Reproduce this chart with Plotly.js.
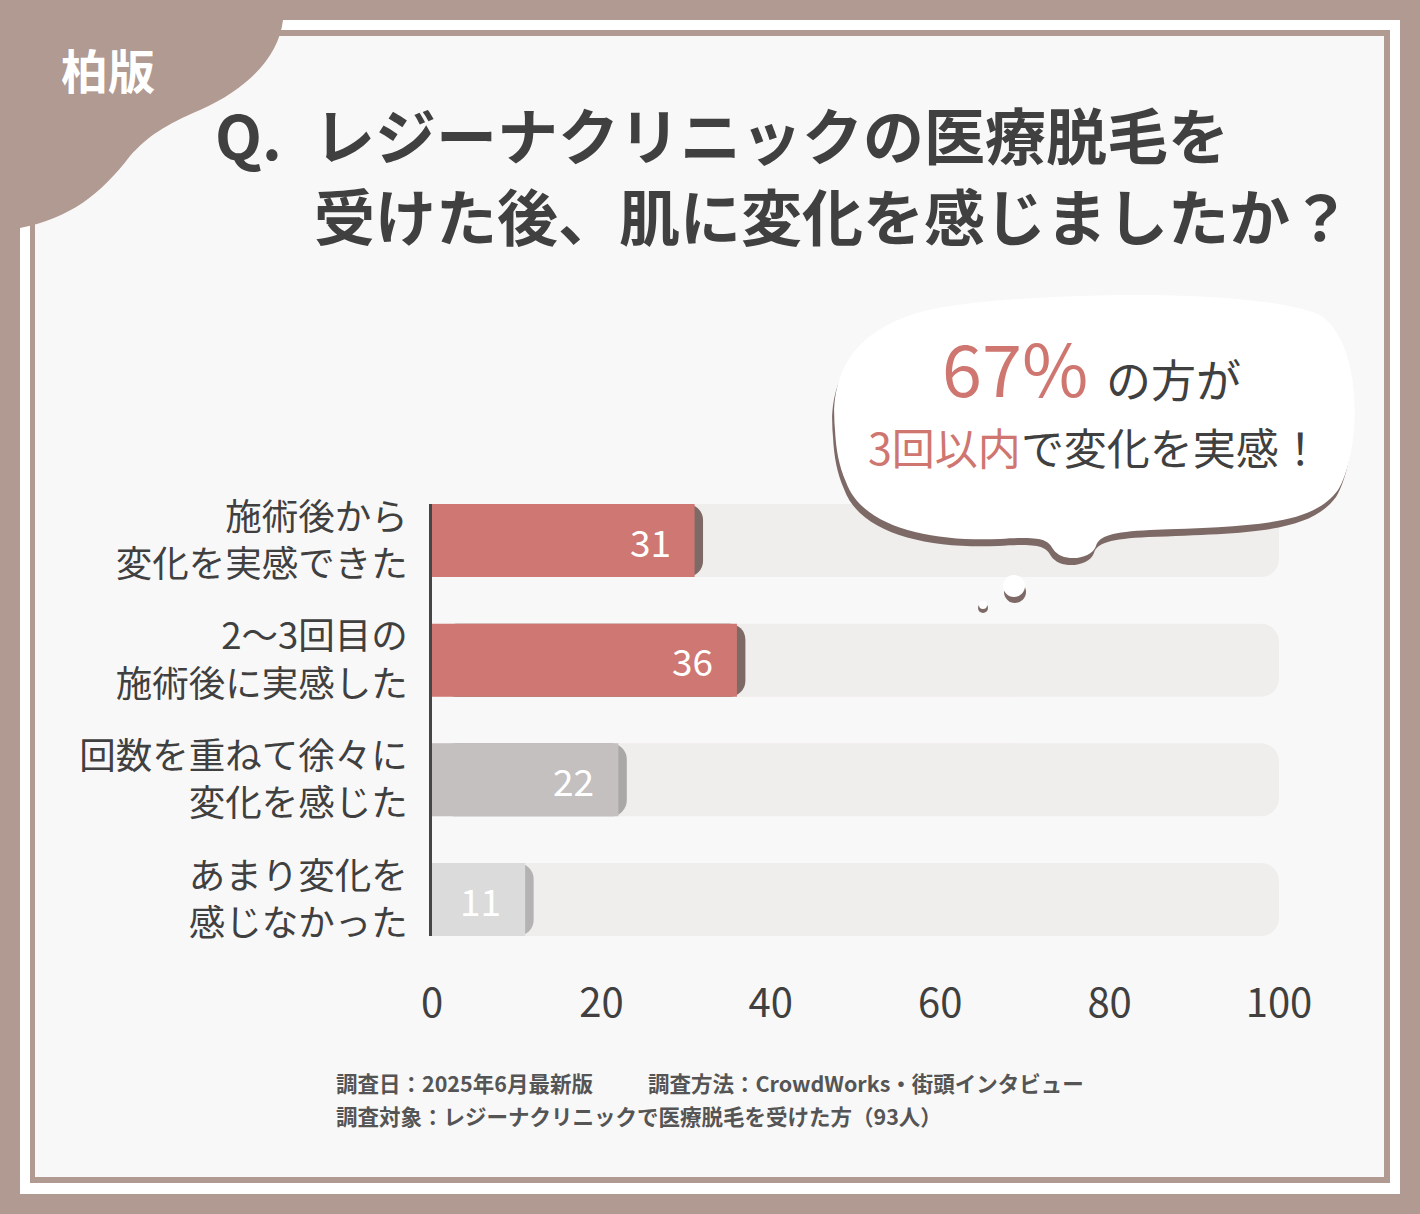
<!DOCTYPE html>
<html>
<head>
<meta charset="utf-8">
<script src="https://cdn.plot.ly/plotly-3.0.1.min.js"></script>
<style>
  html, body { margin: 0; padding: 0; background: #b09a92; }
  #chart { width: 1420px; height: 1214px; }
</style>
</head>
<body>
<div id="chart"></div>
<script>
// survey answers, top to bottom
var categories = [
  "施術後から<br>変化を実感できた",
  "2〜3回目の<br>施術後に実感した",
  "回数を重ねて徐々に<br>変化を感じた",
  "あまり変化を<br>感じなかった"
];
var counts = [31, 36, 22, 11];
var scaleMax = 100;
var tickValues = [0, 20, 40, 60, 80, 100];

var barColors = ["#cf7772", "#cf7772", "#c3c0bf", "#dcdbdb"];
var shadowColors = ["#7d6a66", "#7d6a66", "#aaa8a7", "#b4b2b2"];

var W = 1420, H = 1214;
var M = {l: 432, r: 141, t: 504, b: 278};

// page pixels -> paper coords
function px(x) { return (x - M.l) / (W - M.l - M.r); }
function py(y) { return (H - M.b - y) / (H - M.t - M.b); }
function path(str, dx, dy) {
  dx = dx || 0; dy = dy || 0;
  return str.replace(/(-?[\d.]+),(-?[\d.]+)/g, function(m, a, b) {
    return px(+a + dx).toFixed(5) + "," + py(+b + dy).toFixed(5);
  });
}
function rect(x0, y0, x1, y1, color, layer) {
  return {type: "rect", xref: "paper", yref: "paper", layer: layer || "below",
    x0: px(x0), x1: px(x1), y0: py(y0), y1: py(y1),
    fillcolor: color, line: {width: 0}};
}
function circle(cx, cy, r, color) {
  return {type: "circle", xref: "paper", yref: "paper", layer: "above",
    x0: px(cx - r), x1: px(cx + r), y0: py(cy - r), y1: py(cy + r),
    fillcolor: color, line: {width: 0}};
}
function note(text, x, y, size, opts) {
  opts = opts || {};
  return {text: text, xref: "paper", yref: "paper", x: px(x), y: py(y),
    xanchor: opts.anchor || "left", yanchor: "middle", showarrow: false,
    font: {family: opts.family || "Noto Sans CJK JP", size: size, color: opts.color || "#404040",
      weight: opts.weight || 400}};
}

var frameBrown = "#b09a92";
var cornerPath = "M0,0 L292,0 L283,20 C279,55 250,88 200,110 C165,125 148,136 130,156 C100,195 70,218 20,228 L0,230 Z";
var bubblePath = "M835,430 C828,360 868,318 950,306 C1050,292 1250,288 1318,314 C1364,340 1362,450 1338,490 " +
  "C1312,526 1250,526 1150,530 C1112,532 1099,536 1096,546 C1091,560 1062,563 1053,549 " +
  "C1048,539 1040,536 1000,539 C930,542 862,527 846,482 C839,466 836,450 835,430 Z";

var shapes = [
  rect(20, 20, 1400, 1194, "#ffffff"),
  rect(30, 30, 1390, 1183, frameBrown),
  rect(35, 36, 1384, 1177, "#f9f8f8"),
  {type: "path", xref: "paper", yref: "paper", layer: "below", path: path(cornerPath),
    fillcolor: frameBrown, line: {width: 0}},
  // speech bubble
  {type: "path", xref: "paper", yref: "paper", layer: "above", path: path(bubblePath, -2, 7),
    fillcolor: "#7d6a66", line: {width: 0}},
  {type: "path", xref: "paper", yref: "paper", layer: "above", path: path(bubblePath),
    fillcolor: "#ffffff", line: {width: 0}},
  circle(1015, 592, 11, "#7d6a66"),
  circle(1014, 586, 11, "#ffffff"),
  circle(983, 608, 5, "#7d6a66"),
  circle(983, 605, 4, "#ffffff")
];

var annotations = [
  note("柏版", 108, 68, 47, {anchor: "center", color: "#ffffff", weight: 700}),
  note("Q.", 213, 133, 61, {weight: 700}),
  note("レジーナクリニックの医療脱毛を", 312, 133, 61, {weight: 700}),
  note("受けた後、肌に変化を感じましたか？", 312, 214, 61, {weight: 700}),
  note("67%", 1090, 365, 72, {anchor: "right", color: "#cf7670"}),
  note("の方が", 1104, 378, 45),
  note("<span style='color:#cf7670'>3回以内</span>で変化を実感！", 1095, 446, 43, {anchor: "center"}),
  note("調査日：2025年6月最新版", 334, 1082, 21.5, {color: "#555555", weight: 700}),
  note("調査方法：CrowdWorks・街頭インタビュー", 646, 1082, 21.5, {color: "#555555", weight: 700}),
  note("調査対象：レジーナクリニックで医療脱毛を受けた方（93人）", 334, 1115, 21.5, {color: "#555555", weight: 700})
];

// value labels inside bar ends
for (var i = 0; i < counts.length; i++) {
  annotations.push({
    text: String(counts[i]), x: counts[i], y: categories[i], xref: "x", yref: "y",
    xanchor: "right", yanchor: "middle", xshift: -22, showarrow: false,
    font: {family: "Noto Sans CJK JP", size: 37, color: "#ffffff"}
  });
}

var background = {
  type: "bar", orientation: "h", y: categories,
  x: categories.map(function() { return scaleMax; }),
  marker: {color: "#f0eded", cornerradius: 18},
  hoverinfo: "skip"
};
var shadow = {
  type: "bar", orientation: "h", y: categories, x: counts, base: 1,
  marker: {color: shadowColors, cornerradius: 16},
  hoverinfo: "skip"
};
var bars = {
  type: "bar", orientation: "h", y: categories, x: counts,
  marker: {color: barColors, cornerradius: 16},
  hoverinfo: "skip"
};

var layout = {
  width: W, height: H,
  margin: M,
  paper_bgcolor: frameBrown,
  plot_bgcolor: "rgba(0,0,0,0)",
  barmode: "overlay",
  bargap: 0.39,
  showlegend: false,
  font: {family: "Noto Sans CJK JP", color: "#404040"},
  xaxis: {
    range: [0, scaleMax], tickvals: tickValues, showgrid: false, zeroline: false,
    showline: false, ticks: "", ticklabelstandoff: 40,
    tickfont: {size: 40, color: "#404040"}, fixedrange: true
  },
  yaxis: {
    type: "category", range: [categories.length - 0.695, -0.305],
    showgrid: false, zeroline: false, showline: true, linecolor: "#454545", linewidth: 3,
    ticks: "", ticklabelstandoff: 14,
    tickfont: {size: 36.5, color: "#404040"}, fixedrange: true
  },
  shapes: shapes,
  annotations: annotations
};

Plotly.newPlot("chart", [background, shadow, bars], layout, {displayModeBar: false, staticPlot: true});
</script>
</body>
</html>
